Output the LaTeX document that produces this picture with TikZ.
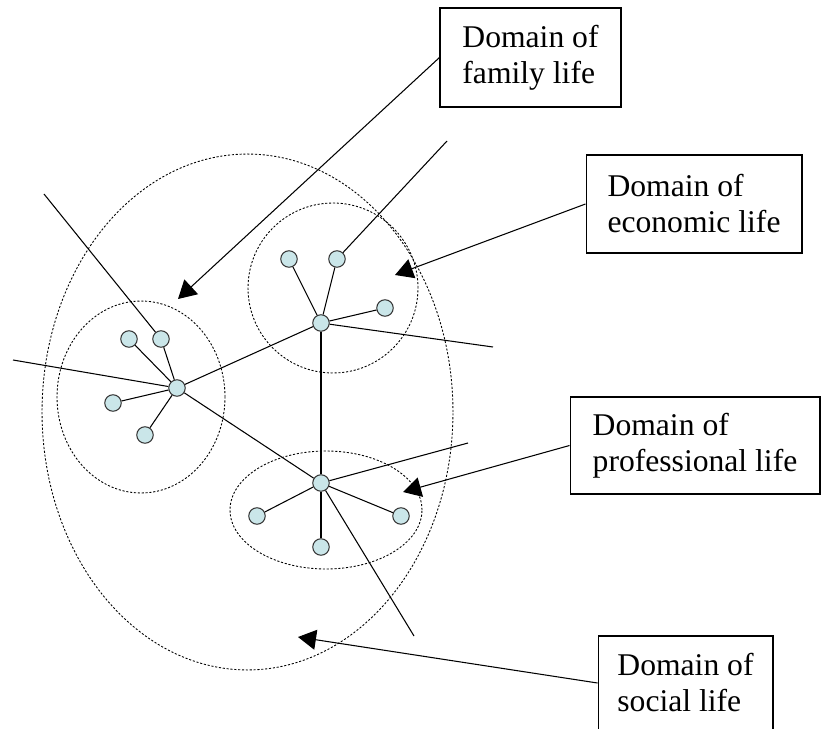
\documentclass[tikz,border=0pt]{standalone}
\usepackage{fontspec}
\setmainfont{Liberation Serif}
\usetikzlibrary{arrows.meta}
\definecolor{nodecyan}{RGB}{202,230,233}

\begin{document}
\begin{tikzpicture}[x=0.02cm,y=-0.02cm,
    lifearea/.style={draw,line width=0.5pt,dash pattern=on 1.2pt off 1pt},
    person/.style={circle,draw=black!80,line width=0.6pt,fill=nodecyan,
      minimum size=0.33cm,inner sep=0pt},
    tie/.style={line width=0.6pt},
    labelbox/.style={draw,line width=0.6pt,align=left,inner sep=0pt,
      font=\fontsize{18}{20.5}\selectfont},
    pointer/.style={line width=0.6pt,-{Triangle[length=0.36cm,width=0.4cm]}}]

  % ここまでをバウンディングボックス内とする
  \useasboundingbox (0,0) rectangle (824,729);

  % 領域(点線の楕円)
  \draw[lifearea] (247.5,412) ellipse [x radius=4.11cm,y radius=5.16cm];
  \draw[lifearea] (141,397) ellipse [x radius=1.68cm,y radius=1.92cm];
  \draw[lifearea] (333,288) ellipse [x radius=1.70cm,y radius=1.70cm];
  \draw[lifearea] (326,510) ellipse [x radius=1.92cm,y radius=1.18cm];

  % 線の端点
  \coordinate (famfar)  at (13,360);
  \coordinate (famtop)  at (44,194);
  \coordinate (ecotop)  at (447,141);
  \coordinate (ecofar)  at (493,347);
  \coordinate (profar)  at (468,443);
  \coordinate (prolow)  at (414,636);

  % 人物
  \node[person] (famhub) at (177,388) {};
  \node[person] (fam1) at (129,339) {};
  \node[person] (fam2) at (161,339) {};
  \node[person] (fam3) at (113,403) {};
  \node[person] (fam4) at (145,435) {};

  \node[person] (ecohub) at (321,323) {};
  \node[person] (eco1) at (289,259) {};
  \node[person] (eco2) at (337,259) {};
  \node[person] (eco3) at (385,308) {};

  \node[person] (prohub) at (321,483) {};
  \node[person] (pro1) at (257,516) {};
  \node[person] (pro2) at (401,516) {};
  \node[person] (pro3) at (321,547) {};

  % つながり
  \draw[tie] (famfar) -- (famhub);
  \draw[tie] (famtop) -- (fam2);
  \foreach \leaf in {fam1,fam2,fam3,fam4}
    \draw[tie] (famhub) -- (\leaf);
  \draw[tie] (ecotop) -- (eco2);
  \draw[tie] (ecohub) -- (ecofar);
  \foreach \leaf in {eco1,eco2,eco3}
    \draw[tie] (ecohub) -- (\leaf);
  \draw[tie] (prohub) -- (profar);
  \draw[tie] (prohub) -- (prolow);
  \foreach \leaf in {pro1,pro2,pro3}
    \draw[tie] (prohub) -- (\leaf);
  \draw[tie] (famhub) -- (ecohub);
  \draw[tie] (famhub) -- (prohub);
  \draw[tie] (ecohub) -- (prohub);

  % 説明の枠
  \node[labelbox,minimum width=3.62cm,minimum height=1.98cm]
    (fambox) at (530.5,57.5) {Domain of\\family life};
  \node[labelbox,minimum width=4.32cm,minimum height=1.96cm]
    (ecobox) at (694,204) {Domain of\\economic life};
  \node[labelbox,minimum width=5.0cm,minimum height=1.94cm]
    (probox) at (695,445.5) {Domain of\\professional life};
  \node[labelbox,minimum width=3.5cm,minimum height=1.88cm]
    (socbox) at (685.5,683) {Domain of\\social life};

  % 矢印の先
  \coordinate (famtip) at (178,299);
  \coordinate (ecotip) at (395,275);
  \coordinate (protip) at (403,492);
  \coordinate (soctip) at (298,637);

  \draw[pointer] (fambox.west) -- (famtip);
  \draw[pointer] (ecobox.west) -- (ecotip);
  \draw[pointer] (probox.west) -- (protip);
  \draw[pointer] (socbox.west) -- (soctip);
\end{tikzpicture}
\end{document}
